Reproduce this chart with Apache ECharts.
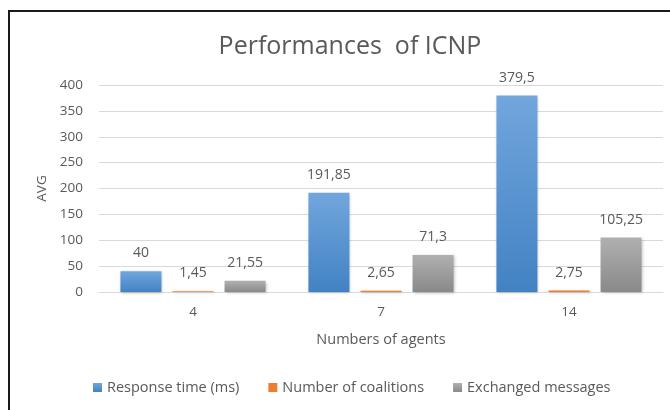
<!DOCTYPE html>
<html lang="en">

<head>
    <meta charset="UTF-8">
    <title>Performances of ICNP</title>
    <script src="https://cdn.jsdelivr.net/npm/echarts@6/dist/echarts.min.js"></script>
    <style>
        html, body { margin: 0; padding: 0; background: #fff; }
        #chart { width: 670px; height: 410px; }
    </style>
</head>

<body>
    <div id="chart"></div>

    <script>
        // values
        const categories = ['4', '7', '14'];
        const seriesNames = ['Response time (ms)', 'Number of coalitions', 'Exchanged messages'];
        const responseTime = [40, 191.85, 379.5];
        const coalitions = [1.45, 2.65, 2.75];
        const messages = [21.55, 71.3, 105.25];

        const textColor = '#595959';
        const fontFamily = '"Open Sans", sans-serif';

        // excel-like vertical gradient fill
        function grad(top, bottom) {
            return new echarts.graphic.LinearGradient(0, 0, 0, 1, [
                { offset: 0, color: top },
                { offset: 1, color: bottom }
            ]);
        }

        const labelOpt = {
            show: true,
            position: 'top',
            distance: 11,
            color: textColor,
            fontSize: 14,
            fontFamily: fontFamily,
            formatter: p => String(p.value).replace('.', ',')
        };

        function barSeries(name, values, fill) {
            return {
                name: name,
                type: 'bar',
                data: values,
                barWidth: 41,
                barGap: '27%',
                itemStyle: {
                    color: fill,
                    shadowColor: 'rgba(0,0,0,0.25)',
                    shadowBlur: 3,
                    shadowOffsetX: 1,
                    shadowOffsetY: 1
                },
                label: labelOpt
            };
        }

        const chart = echarts.init(document.getElementById('chart'));

        const option = {
            backgroundColor: '#fff',
            animation: false,
            color: ['#5b9bd5', '#ed7d31', '#a5a5a5'],
            title: {
                text: 'Performances  of ICNP',
                left: 345,
                textAlign: 'center',
                top: 29,
                textStyle: { color: textColor, fontSize: 25, fontWeight: 'normal', fontFamily: fontFamily }
            },
            legend: {
                bottom: 10,
                left: 88,
                itemWidth: 9,
                itemHeight: 9,
                itemGap: 29,
                icon: 'rect',
                textStyle: { color: textColor, fontSize: 14.5, fontFamily: fontFamily },
                data: seriesNames
            },
            grid: { left: 99, right: 7, top: 85, bottom: 118 },
            xAxis: {
                type: 'category',
                data: categories,
                name: 'Numbers of agents',
                nameLocation: 'middle',
                nameGap: 40,
                nameTextStyle: { color: textColor, fontSize: 14.5, fontFamily: fontFamily },
                axisLine: { lineStyle: { color: '#d9d9d9' } },
                axisTick: { show: false },
                axisLabel: { color: textColor, fontSize: 13.5, fontFamily: fontFamily, margin: 13 }
            },
            yAxis: {
                type: 'value',
                min: 0,
                max: 400,
                interval: 50,
                name: 'AVG',
                nameLocation: 'middle',
                nameGap: 50,
                nameTextStyle: { color: textColor, fontSize: 13.5, fontFamily: fontFamily },
                axisLine: { show: false },
                axisTick: { show: false },
                axisLabel: { color: textColor, fontSize: 13.5, fontFamily: fontFamily, margin: 16 },
                splitLine: { lineStyle: { color: '#d9d9d9' } }
            },
            series: [
                barSeries(seriesNames[0], responseTime, grad('#72a6dd', '#4282c3')),
                barSeries(seriesNames[1], coalitions, '#ed7d31'),
                barSeries(seriesNames[2], messages, grad('#b0b0b0', '#898989'))
            ],
            graphic: [
                {
                    type: 'polyline',
                    shape: { points: [[9, 420], [9, 11], [680, 11]] },
                    style: { stroke: '#1a1a1a', lineWidth: 2, fill: null },
                    silent: true
                }
            ]
        };

        chart.setOption(option);
    </script>
</body>

</html>
